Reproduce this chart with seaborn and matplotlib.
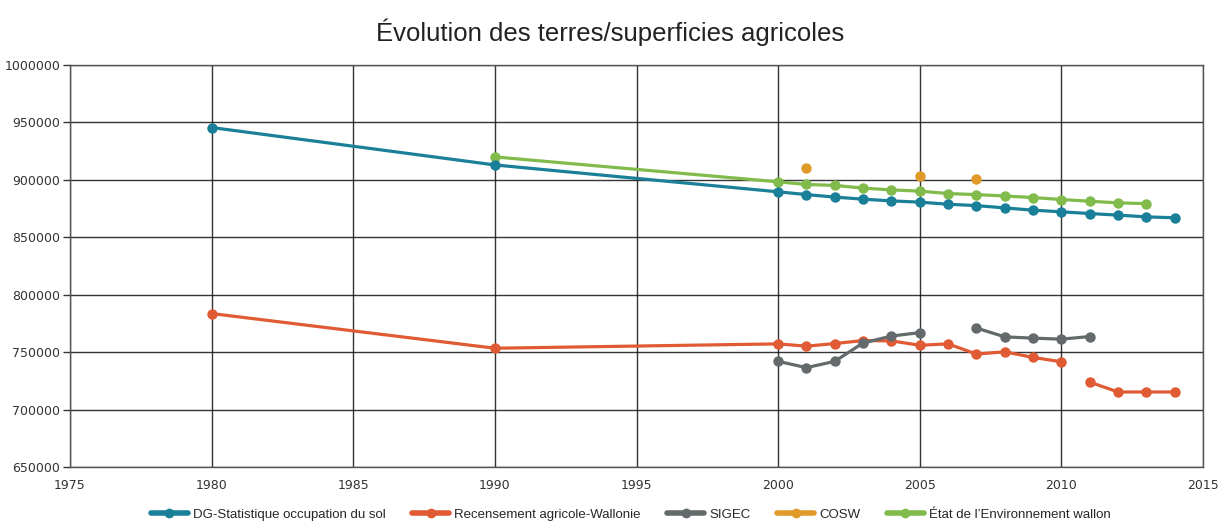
import matplotlib
matplotlib.use("Agg")
import matplotlib.pyplot as plt
import seaborn as sns
import numpy as np

# Données
annees_dg = [1980, 1990, 2000, 2001, 2002, 2003, 2004, 2005, 2006, 2007, 2008, 2009, 2010, 2011, 2012, 2013, 2014]
dg_stat = [945600, 913000, 889600, 887200, 885000, 883200, 881700, 880600, 878800, 877600, 875600, 873600, 872200, 870700, 869300, 867800, 867000]

annees_rec_1 = [1980, 1990, 2000, 2001, 2002, 2003, 2004, 2005, 2006, 2007, 2008, 2009, 2010]
recensement_1 = [783600, 753400, 757200, 755200, 757500, 760100, 759800, 756000, 757200, 748300, 750300, 745400, 741600]
annees_rec_2 = [2011, 2012, 2013, 2014]
recensement_2 = [723900, 715300, 715300, 715300]

annees_sigec_1 = [2000, 2001, 2002, 2003, 2004, 2005]
sigec_1 = [742000, 736500, 742000, 758000, 764000, 767000]
annees_sigec_2 = [2007, 2008, 2009, 2010, 2011]
sigec_2 = [771000, 763300, 762200, 761300, 763600]

annees_cosw = [2001, 2005, 2007]
cosw = [910700, 903700, 900600]

annees_etat = [1990, 2000, 2001, 2002, 2003, 2004, 2005, 2006, 2007, 2008, 2009, 2010, 2011, 2012, 2013]
etat_env = [920000, 898300, 896000, 895200, 892800, 891300, 890200, 888100, 887200, 886000, 884600, 882900, 881400, 880000, 879300]

couleurs = {
    "dg": "#1a7f98",
    "rec": "#e05a33",
    "sigec": "#646a6c",
    "cosw": "#e09a2a",
    "etat": "#80bb4c",
}

sns.set_theme(style="white")
plt.rcParams["font.family"] = ["DejaVu Sans"]

fig = plt.figure(figsize=(12.21, 5.22), dpi=100)
ax = fig.add_axes([0.0573, 0.1054, 0.928, 0.770])

lw = 2.3
ms = 7.5

sns.lineplot(x=annees_dg, y=dg_stat, color=couleurs["dg"], marker="o", markersize=ms,
             markeredgewidth=0, linewidth=lw, ax=ax, label="DG-Statistique occupation du sol", zorder=4)
sns.lineplot(x=annees_rec_1, y=recensement_1, color=couleurs["rec"], marker="o", markersize=ms,
             markeredgewidth=0, linewidth=lw, ax=ax, label="Recensement agricole-Wallonie", zorder=3)
sns.lineplot(x=annees_rec_2, y=recensement_2, color=couleurs["rec"], marker="o", markersize=ms,
             markeredgewidth=0, linewidth=lw, ax=ax, zorder=3)
sns.lineplot(x=annees_sigec_1, y=sigec_1, color=couleurs["sigec"], marker="o", markersize=ms,
             markeredgewidth=0, linewidth=lw, ax=ax, label="SIGEC", zorder=3)
sns.lineplot(x=annees_sigec_2, y=sigec_2, color=couleurs["sigec"], marker="o", markersize=ms,
             markeredgewidth=0, linewidth=lw, ax=ax, zorder=3)
sns.lineplot(x=annees_cosw, y=cosw, color=couleurs["cosw"], marker="o", markersize=ms,
             markeredgewidth=0, linewidth=0, ax=ax, label="COSW", zorder=3)
sns.lineplot(x=annees_etat, y=etat_env, color=couleurs["etat"], marker="o", markersize=ms,
             markeredgewidth=0, linewidth=lw, ax=ax, label="État de l\u2019Environnement wallon", zorder=3)

ax.set_xlim(1975, 2015)
ax.set_ylim(650000, 1000000)
ax.set_xticks(np.arange(1975, 2016, 5))
ax.set_yticks(np.arange(650000, 1000001, 50000))
ax.yaxis.set_major_formatter(matplotlib.ticker.FuncFormatter(lambda v, p: f"{int(v)}"))
ax.grid(True, color="#111111", linewidth=1.0, alpha=0.85)
ax.set_axisbelow(True)
for s in ax.spines.values():
    s.set_color("#555555")
    s.set_linewidth(1.0)
ax.tick_params(axis="y", labelsize=9, colors="#333333", length=5, width=1, direction="out",
               left=True, pad=2)
ax.tick_params(axis="x", labelsize=9, colors="#333333", bottom=False, pad=3)
ax.set_xlabel("")
ax.set_ylabel("")

fig.suptitle("Évolution des terres/superficies agricoles", y=0.965, fontsize=18.5,
             family="Liberation Sans", color="#222222")

handles, labels = ax.get_legend_handles_labels()
leg = ax.legend(handles, labels, loc="upper center", bbox_to_anchor=(0.495, -0.074), ncol=5,
                frameon=False, prop={"family": "Liberation Sans", "size": 9.5},
                handlelength=2.8, columnspacing=2.0, handletextpad=0.4)
for h in leg.legend_handles:
    h.set_linewidth(4)
    h.set_markersize(7)

fig.savefig("out.png", dpi=100)
